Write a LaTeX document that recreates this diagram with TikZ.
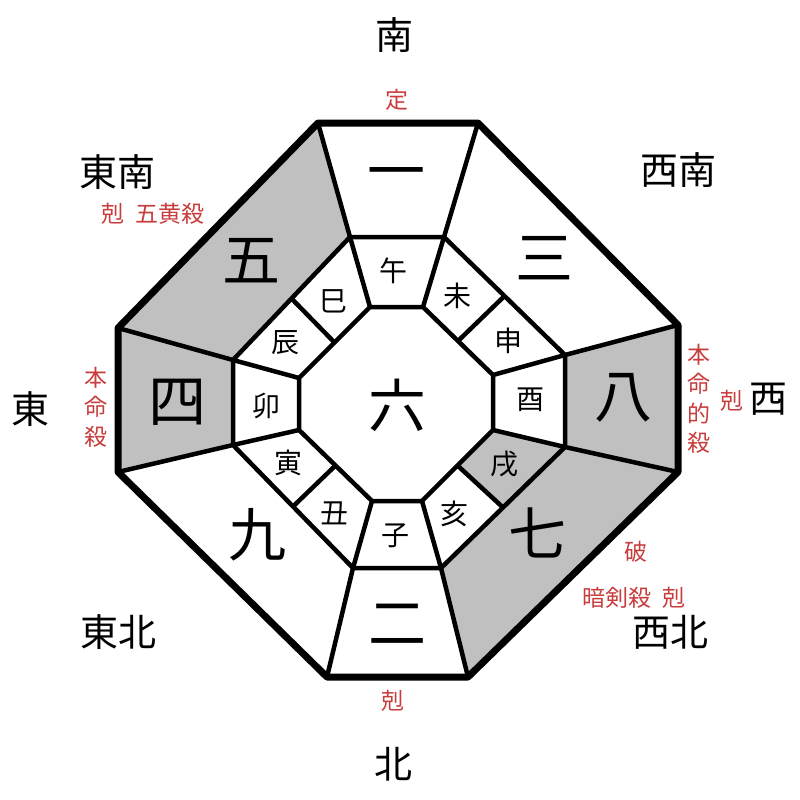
\documentclass[tikz,border=0pt]{standalone}
\usepackage{fontspec}
\usetikzlibrary{calc}
\newfontfamily\cjk{Noto Sans CJK JP}
\definecolor{redtxt}{RGB}{200,60,60}
\definecolor{cellgray}{RGB}{192,192,192}
\begin{document}
\begin{tikzpicture}[x=1pt,y=-1pt,
  frame/.style={line width=7pt, line join=round},
  grid/.style={line width=4.5pt, line join=round},
  big/.style={font=\cjk\fontsize{58}{58}\selectfont, inner sep=0pt},
  branch/.style={font=\cjk\fontsize{28}{28}\selectfont, inner sep=0pt},
  dir/.style={font=\cjk\fontsize{38}{38}\selectfont, inner sep=0pt},
  note/.style={font=\cjk\fontsize{23}{29.5}\selectfont, text=redtxt, inner sep=0pt, align=center}]
\useasboundingbox (0,0) rectangle (800,800);
% outer octagon
\coordinate (O1) at (318,123); \coordinate (O2) at (478,123);
\coordinate (O3) at (678,325); \coordinate (O4) at (678,472);
\coordinate (O5) at (468,677); \coordinate (O6) at (327,677);
\coordinate (O7) at (118,472); \coordinate (O8) at (118,328);
% middle octagon
\coordinate (M1) at (350,237); \coordinate (M2) at (444,237);
\coordinate (M3) at (565,355); \coordinate (M4) at (565,447);
\coordinate (M5) at (441,568); \coordinate (M6) at (353,568);
\coordinate (M7) at (233,445); \coordinate (M8) at (233,360);
% inner octagon
\coordinate (I1) at (370,307); \coordinate (I2) at (423,307);
\coordinate (I3) at (493,375); \coordinate (I4) at (493,430);
\coordinate (I5) at (422,501); \coordinate (I6) at (372,501);
\coordinate (I7) at (299,430); \coordinate (I8) at (299,378);
% midpoints for dividers
\coordinate (MA) at ($(M2)!0.5!(M3)$); \coordinate (IA) at ($(I2)!0.5!(I3)$);
\coordinate (MB) at ($(M4)!0.5!(M5)$); \coordinate (IB) at ($(I4)!0.5!(I5)$);
\coordinate (MC) at ($(M6)!0.5!(M7)$); \coordinate (IC) at ($(I6)!0.5!(I7)$);
\coordinate (MD) at ($(M8)!0.5!(M1)$); \coordinate (ID) at ($(I8)!0.5!(I1)$);
% gray cells
\fill[cellgray] (O8)--(O1)--(M1)--(M8)--cycle;
\fill[cellgray] (O7)--(O8)--(M8)--(M7)--cycle;
\fill[cellgray] (O3)--(O4)--(M4)--(M3)--cycle;
\fill[cellgray] (O4)--(O5)--(M5)--(M4)--cycle;
\fill[cellgray] (M4)--(MB)--(IB)--(I4)--cycle;
% grid lines
\draw[grid] (M1)--(M2)--(M3)--(M4)--(M5)--(M6)--(M7)--(M8)--cycle;
\draw[grid] (I1)--(I2)--(I3)--(I4)--(I5)--(I6)--(I7)--(I8)--cycle;
\foreach \i in {1,...,8}{
  \draw[grid] (O\i)--(M\i);
  \draw[grid] (M\i)--(I\i);
}
\draw[grid] (MA)--(IA);
\draw[grid] (MB)--(IB);
\draw[grid] (MC)--(IC);
\draw[grid] (MD)--(ID);
\draw[frame] (O1)--(O2)--(O3)--(O4)--(O5)--(O6)--(O7)--(O8)--cycle;
% big numerals
\node[big] (n1) at (396,180) {一};
\node[big] (n3) at (544,258) {三};
\node[big] (n8) at (623,398) {八};
\node[big] (n7) at (537,533) {七};
\node[big] (n2) at (397,624) {二};
\node[big] (n9) at (257,535) {九};
\node[big] (n4) at (177,402) {四};
\node[big] (n5) at (251,261) {五};
\node[big] (n6) at (397,405) {六};
% branches
\node[branch] (wu) at (393,271) {午};
\node[branch] (wei) at (457,296) {未};
\node[branch] (shen) at (508,341) {申};
\node[branch] (you) at (530,400) {酉};
\node[branch] (xu) at (504,464) {戌};
\node[branch] (hai) at (454,514) {亥};
\node[branch] (zi) at (395,536) {子};
\node[branch] (chou) at (334,513) {丑};
\node[branch] (yin) at (288,463) {寅};
\node[branch] (mao) at (266,406) {卯};
\node[branch] (chen) at (285,343) {辰};
\node[branch] (si) at (333,301) {巳};
% directions
\node[dir] (S) at (394,35) {南};
\node[dir] (SE) at (117,172) {東南};
\node[dir] (SW) at (678,170) {西南};
\node[dir] (E) at (31,409) {東};
\node[dir] (W) at (768,399) {西};
\node[dir] (NE) at (118,632) {東北};
\node[dir] (NW) at (670,632) {西北};
\node[dir] (N) at (393,764) {北};
% notes
\node[note] (tS) at (397,100) {定};
\node[note] (tSE) at (153,214) {剋\hspace{12pt}五黄殺};
\node[note] (tE) at (96,407) {本\\命\\殺};
\node[note] (tW) at (699,399) {本\\命\\的\\殺};
\node[note] (tW2) at (732,401) {剋};
\node[note] (tNW1) at (636,552) {破};
\node[note] (tNW2) at (634,598) {暗剣殺\hspace{11pt}剋};
\node[note] (tN) at (393,701) {剋};
\end{tikzpicture}
\end{document}
